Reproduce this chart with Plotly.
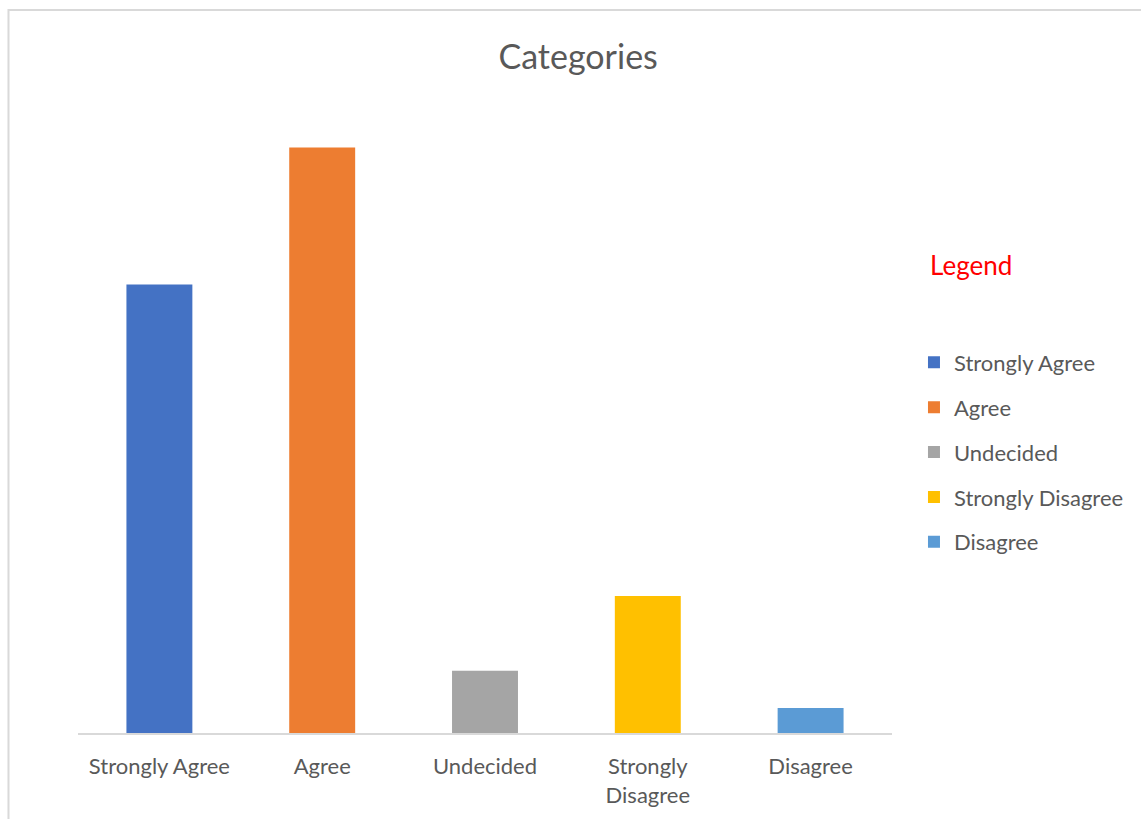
import plotly.graph_objects as go

# Survey responses per category
categories = ["Strongly Agree", "Agree", "Undecided", "Strongly Disagree", "Disagree"]
tick_labels = ["Strongly Agree", "Agree", "Undecided", "Strongly<br>Disagree", "Disagree"]
counts = [36, 47, 5, 11, 2]
colors = ["#4472C4", "#ED7D31", "#A5A5A5", "#FFC000", "#5B9BD5"]

FONT = "Lato"
TEXT = "#595959"

fig = go.Figure()
for i, (cat, val, col) in enumerate(zip(categories, counts, colors)):
    fig.add_trace(go.Bar(
        x=[cat], y=[val], name=cat,
        marker=dict(color=col, line=dict(width=0)),
        legendgroup=f"g{i}",
        hoverinfo="x+y",
    ))

fig.update_layout(
    width=1141, height=819,
    margin=dict(l=78, r=249, t=110, b=86),
    paper_bgcolor="white", plot_bgcolor="white",
    barmode="overlay",
    bargap=0.595,
    font=dict(family=FONT, color=TEXT, size=22),
    title=dict(text="Categories", x=0.5067, xanchor="center", y=0.93, yanchor="middle",
               xref="container", yref="container",
               font=dict(family=FONT, size=34, color=TEXT)),
    showlegend=True,
    legend=dict(
        x=1.027, xanchor="left", y=0.6285, yanchor="top",
        font=dict(family=FONT, size=22, color=TEXT),
        traceorder="grouped", tracegroupgap=13.3,
        bgcolor="rgba(0,0,0,0)",
    ),
    xaxis=dict(
        categoryorder="array", categoryarray=categories,
        tickmode="array", tickvals=categories, ticktext=tick_labels,
        showline=True, linecolor="#D9D9D9", linewidth=1.5,
        ticks="", showgrid=False, zeroline=False,
        ticklabelstandoff=13,
        tickfont=dict(family=FONT, size=22, color=TEXT),
    ),
    yaxis=dict(range=[0, 50], visible=False, showgrid=False, zeroline=False),
    annotations=[dict(
        text="Legend", xref="paper", yref="paper",
        x=1.0443, xanchor="left", y=0.7512, yanchor="middle",
        showarrow=False, font=dict(family=FONT, size=26, color="#FF0000"),
    )],
    shapes=[dict(
        type="rect", xref="paper", yref="paper",
        x0=-0.0854, x1=1.35, y0=-0.3, y1=1.1605,
        line=dict(color="#D9D9D9", width=2), fillcolor="rgba(0,0,0,0)",
        layer="below",
    )],
)

fig.write_html("out.html")
